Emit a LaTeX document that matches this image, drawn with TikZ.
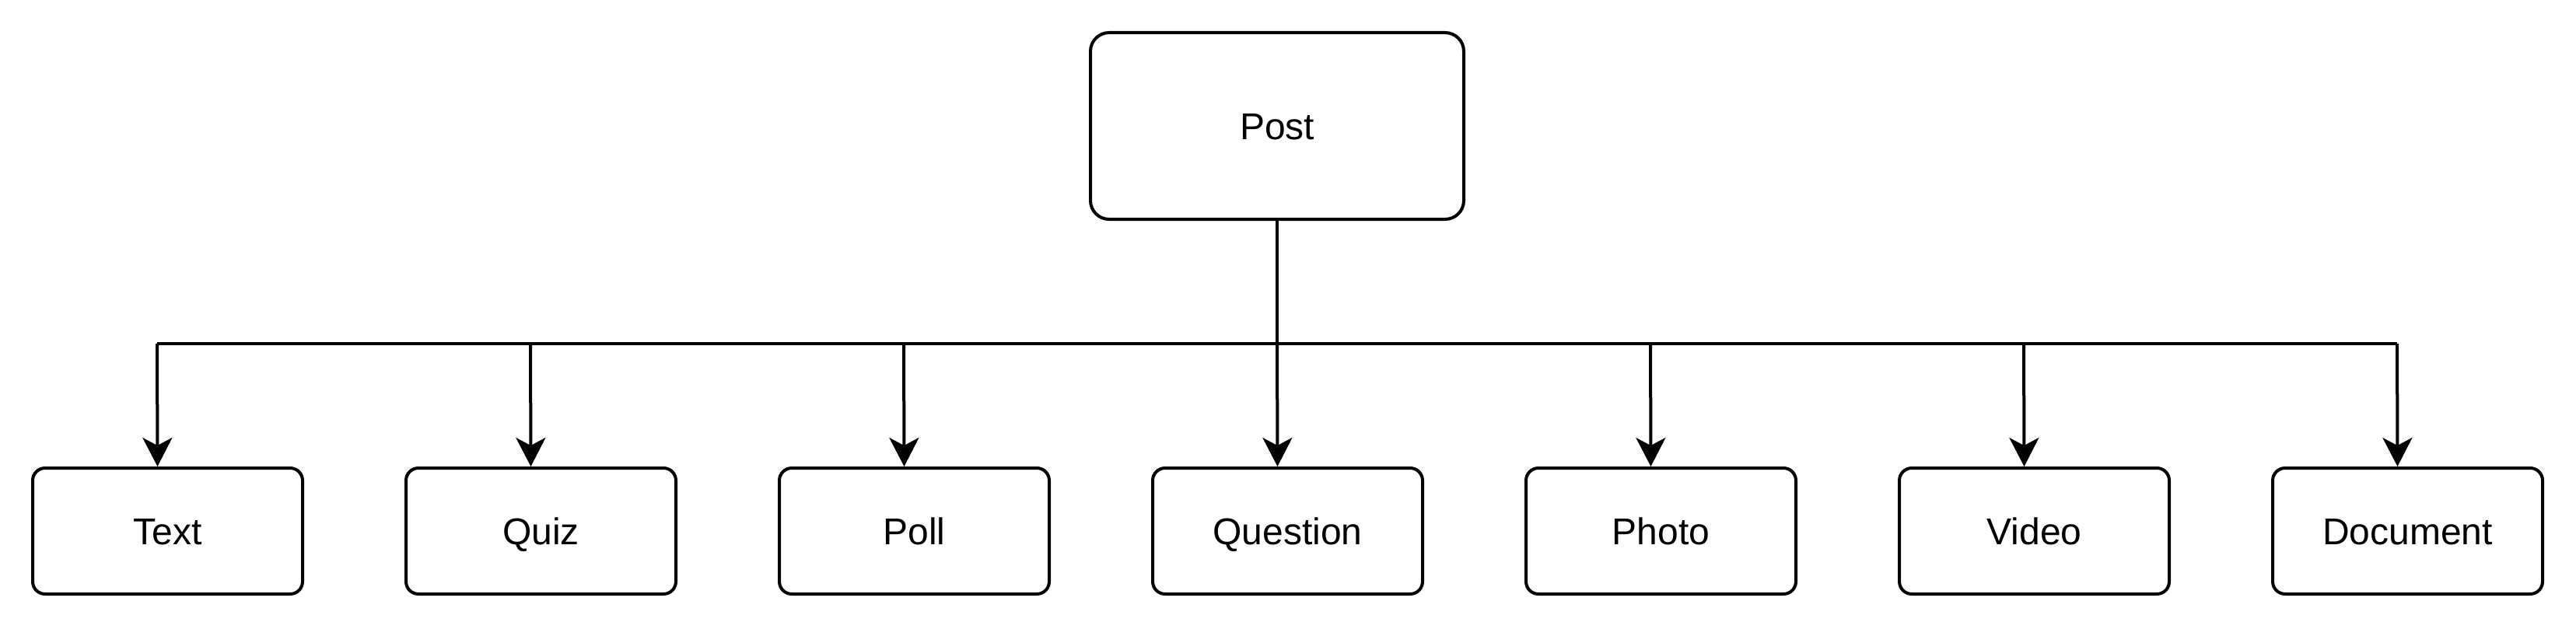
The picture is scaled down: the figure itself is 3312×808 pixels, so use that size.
\documentclass[tikz,border=0pt]{standalone}
\usepackage{fontspec}
\setmainfont{Liberation Sans}
\usetikzlibrary{arrows.meta}
\tikzset{
  lbl/.style={font=\fontsize{24}{28}\selectfont, text height=17.2pt, text depth=0pt},
  parentbox/.style={draw, line width=2pt, rounded corners=12pt, minimum width=240pt, minimum height=120pt, inner sep=0pt, lbl},
  childbox/.style={draw, line width=2pt, rounded corners=8pt, minimum width=173.5pt, minimum height=81pt, inner sep=0pt, lbl},
  wire/.style={line width=2pt},
  arr/.style={line width=2pt, -{Stealth[length=18.5pt, width=19pt, inset=5pt]}}
}
\begin{document}
\begin{tikzpicture}[x=0.5pt, y=-0.5pt]
\useasboundingbox (0,0) rectangle (3312,808);
\node[parentbox] (post) at (1642,162) {Post};
\foreach \i/\t in {0/Text,1/Quiz,2/Poll,3/Question,4/Photo,5/Video,6/Document}{
  \node[childbox] (c\i) at (215.5+480*\i,683) {\t};
  \coordinate (b\i) at (202+480*\i,442);
}
\draw[wire] (b0) -- (b6);
\draw[wire] (post.south) -- (post.south |- b3);
\foreach \i in {0,...,6}{
  \draw[arr] (b\i) -- ([xshift=-6.5pt]c\i.north);
}
\end{tikzpicture}
\end{document}
